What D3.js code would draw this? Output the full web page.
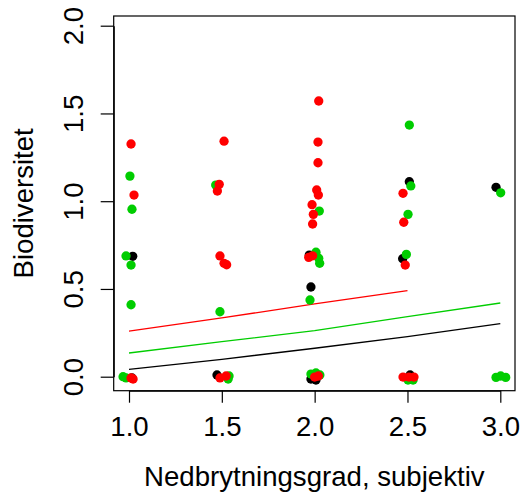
<!DOCTYPE html>
<html>
<head>
<meta charset="utf-8">
<script src="https://cdn.jsdelivr.net/npm/d3@7"></script>
<style>
  body { margin: 0; background: #fff; }
  svg text { font-family: "Liberation Sans", Arial, Helvetica, sans-serif; fill: #000; }
</style>
</head>
<body>
<div id="chart"></div>
<script>
// jittered points: x (subjective degradation) and y (biodiversity)
const blackX = [1.02, 1.016, 1.474, 1.971, 1.98, 1.98, 2.007, 2.51, 2.474, 2.514, 2.977];
const blackY = [0.686, -0.007, 0.01, 0.693, 0.511, -0.013, -0.019, 1.111, 0.672, 0.01, 1.079];

const greenX = [1.005, 1.016, 0.984, 1.011, 1.011, 0.968, 0.984, 1.467, 1.49, 1.539, 1.534,
  2.025, 2.007, 2.022, 2.027, 1.975, 1.98, 2.007, 2.028,
  2.51, 2.518, 2.503, 2.494, 2.503, 2.53, 3.002, 2.977, 3.002, 3.029];
const greenY = [1.143, 0.954, 0.688, 0.636, 0.41, 0.0, -0.007, 1.092, 0.37, 0.004, -0.013,
  0.944, 0.709, 0.675, 0.646, 0.437, 0.015, 0.021, 0.01,
  1.434, 1.087, 0.925, 0.697, -0.019, -0.019, 1.048, -0.004, 0.004, -0.004];

const redX = [1.011, 1.027, 1.011, 1.022, 1.512, 1.486, 1.476, 1.49, 1.512, 1.526, 1.49, 1.523,
  2.022, 2.018, 2.018, 2.011, 2.02, 1.986, 1.993, 1.989, 1.968, 1.989, 2.02, 2.0,
  2.476, 2.48, 2.488, 2.476, 2.508, 2.535];
const redY = [1.326, 1.035, -0.007, -0.013, 1.342, 1.096, 1.058, 0.688, 0.646, 0.638, -0.007, 0.004,
  1.571, 1.337, 1.219, 1.064, 1.035, 0.98, 0.925, 0.87, 0.68, 0.689, 0.004, -0.002,
  1.045, 0.88, 0.636, -0.002, -0.002, -0.002];

// fitted curves read at each x tick
const fitBlackX = [1.0, 1.5, 2.0, 2.5, 3.0];
const fitBlackY = [0.042, 0.099, 0.162, 0.228, 0.302];
const fitGreenX = [1.0, 1.5, 2.0, 2.5, 3.0];
const fitGreenY = [0.135, 0.2, 0.262, 0.342, 0.42];
const fitRedX = [1.0, 1.5, 2.0, 2.5];
const fitRedY = [0.26, 0.335, 0.415, 0.49];

const xTicks = [1.0, 1.5, 2.0, 2.5, 3.0];
const yTicks = [0.0, 0.5, 1.0, 1.5, 2.0];

const BLACK = '#000000';
const GREEN = '#00CD00';
const RED = '#FF0000';

const width = 523;
const height = 493;
const fontSize = 27.6;

const svg = d3.select('#chart')
  .append('svg')
  .attr('width', width)
  .attr('height', height);

const x = d3.scaleLinear().domain([1, 3]).range([129, 500.3]);
const y = d3.scaleLinear().domain([0, 2]).range([376.7, 25.7]);

const box = { left: 113.7, right: 515, top: 16, bottom: 390.7 };

// fitted lines
const line = d3.line().x(d => x(d[0])).y(d => y(d[1]));
const fits = [
  [fitBlackX, fitBlackY, BLACK],
  [fitGreenX, fitGreenY, GREEN],
  [fitRedX, fitRedY, RED],
];
fits.forEach(([xs, ys, col]) => {
  svg.append('path')
    .datum(xs.map((v, i) => [v, ys[i]]))
    .attr('d', line)
    .attr('fill', 'none')
    .attr('stroke', col)
    .attr('stroke-width', 1.3);
});

// points
const series = [
  [blackX, blackY, BLACK],
  [greenX, greenY, GREEN],
  [redX, redY, RED],
];
series.forEach(([xs, ys, col]) => {
  svg.append('g')
    .selectAll('circle')
    .data(xs.map((v, i) => [v, ys[i]]))
    .join('circle')
    .attr('cx', d => x(d[0]))
    .attr('cy', d => y(d[1]))
    .attr('r', 4.65)
    .attr('fill', col);
});

// box
svg.append('rect')
  .attr('x', box.left)
  .attr('y', box.top)
  .attr('width', box.right - box.left)
  .attr('height', box.bottom - box.top)
  .attr('fill', 'none')
  .attr('stroke', '#000')
  .attr('stroke-width', 1.2);

// x axis
const xAxis = d3.axisBottom(x)
  .tickValues(xTicks)
  .tickFormat(d3.format('.1f'))
  .tickSizeInner(12)
  .tickSizeOuter(0)
  .tickPadding(10);

const gx = svg.append('g')
  .attr('transform', `translate(0,${box.bottom})`)
  .call(xAxis);
gx.selectAll('path, line').attr('stroke', '#000').attr('stroke-width', 1.2);
gx.selectAll('text')
  .attr('dy', 0)
  .attr('y', 436 - box.bottom)
  .style('font-size', fontSize + 'px')
  .style('font-family', '"Liberation Sans", Arial, sans-serif')
  .attr('fill', '#000');

// y axis, labels rotated like R's default
const yAxis = d3.axisLeft(y)
  .tickValues(yTicks)
  .tickFormat(d3.format('.1f'))
  .tickSizeInner(13)
  .tickSizeOuter(0);

const gy = svg.append('g')
  .attr('transform', `translate(${box.left},0)`)
  .call(yAxis);
gy.selectAll('path, line').attr('stroke', '#000').attr('stroke-width', 1.2);
gy.selectAll('text')
  .attr('x', 0)
  .attr('dy', 0)
  .attr('transform', `translate(${83.3 - box.left},0) rotate(-90)`)
  .attr('text-anchor', 'middle')
  .style('font-size', fontSize + 'px')
  .style('font-family', '"Liberation Sans", Arial, sans-serif')
  .attr('fill', '#000');

// axis titles
svg.append('text')
  .attr('x', (box.left + box.right) / 2)
  .attr('y', 486)
  .attr('text-anchor', 'middle')
  .style('font-size', fontSize + 'px')
  .text('Nedbrytningsgrad, subjektiv');

svg.append('text')
  .attr('transform', `translate(33.3,${(box.top + box.bottom) / 2}) rotate(-90)`)
  .attr('text-anchor', 'middle')
  .style('font-size', fontSize + 'px')
  .text('Biodiversitet');
</script>
</body>
</html>
